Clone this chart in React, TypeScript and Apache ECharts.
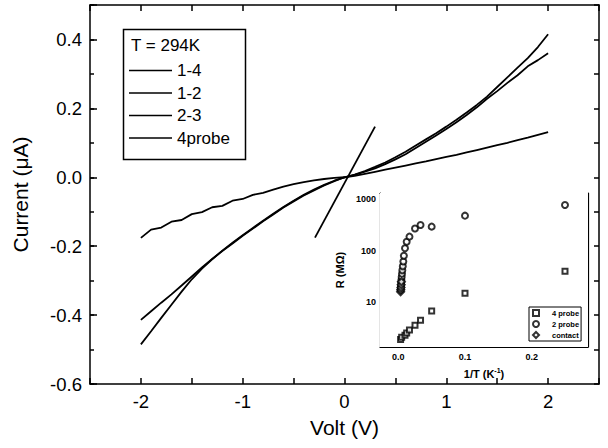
import React, { useEffect, useRef } from 'react';
import * as echarts from 'echarts';

// ---- main I-V data (V in volts, I in µA) ----
const voltage = [
  -2.0, -1.9, -1.8, -1.7, -1.6, -1.5, -1.4, -1.3, -1.2, -1.1, -1.0,
  -0.9, -0.8, -0.7, -0.6, -0.5, -0.4, -0.3, -0.2, -0.1, 0.0,
  0.1, 0.2, 0.3, 0.4, 0.5, 0.6, 0.7, 0.8, 0.9, 1.0,
  1.1, 1.2, 1.3, 1.4, 1.5, 1.6, 1.7, 1.8, 1.9, 2.0,
];
const current14 = [
  -0.485, -0.447, -0.408, -0.370, -0.332, -0.296, -0.265, -0.238, -0.213, -0.190, -0.168,
  -0.147, -0.126, -0.106, -0.086, -0.068, -0.051, -0.036, -0.022, -0.010, 0.0,
  0.008, 0.018, 0.030, 0.043, 0.058, 0.074, 0.092, 0.110, 0.128, 0.147,
  0.167, 0.188, 0.210, 0.234, 0.262, 0.290, 0.318, 0.346, 0.378, 0.415,
];
const current12 = [
  -0.414, -0.389, -0.364, -0.340, -0.314, -0.288, -0.262, -0.237, -0.214, -0.192, -0.170,
  -0.149, -0.128, -0.108, -0.088, -0.070, -0.053, -0.038, -0.024, -0.011, 0.0,
  0.007, 0.016, 0.026, 0.038, 0.052, 0.067, 0.085, 0.103, 0.121, 0.140,
  0.160, 0.181, 0.203, 0.228, 0.250, 0.274, 0.296, 0.322, 0.340, 0.360,
];
const current23 = [
  -0.176, -0.152, -0.146, -0.129, -0.124, -0.107, -0.101, -0.087, -0.083, -0.068, -0.063,
  -0.051, -0.045, -0.036, -0.027, -0.020, -0.014, -0.009, -0.005, -0.002, 0.0,
  0.004, 0.010, 0.016, 0.022, 0.028, 0.034, 0.040, 0.046, 0.053, 0.059,
  0.065, 0.072, 0.079, 0.086, 0.093, 0.100, 0.108, 0.115, 0.123, 0.131,
];
const volt4probe = [-0.29, 0.30];
const current4probe = [-0.175, 0.147];

// ---- inset data: R (MΩ) vs 1/T (1/K) ----
const invT4probe = [0.0034, 0.005, 0.01, 0.0125, 0.0167, 0.025, 0.0333, 0.05, 0.1, 0.25];
const r4probe = [1.9, 2.1, 2.3, 2.55, 2.9, 3.6, 4.5, 6.8, 15, 40];
const invT2probe = [
  0.0034, 0.0037, 0.004, 0.0043, 0.0046, 0.005, 0.0055, 0.006, 0.0067, 0.0075,
  0.0083, 0.01, 0.0125, 0.0167, 0.025, 0.0333, 0.05, 0.1, 0.25,
];
const r2probe = [17.5, 19, 21, 24, 27, 31, 36, 42, 50, 62, 80, 112, 150, 188, 270, 316, 294, 480, 770];
const invTContact = [0.0034, 0.0037, 0.004, 0.0043, 0.0046];
const rContact = [16, 17.5, 19.5, 22, 25];

const legendNames = ['1-4', '1-2', '2-3', '4probe'];
const insetLegendNames = ['4 probe', '2 probe', 'contact'];
const insetLegendIcons = ['emptyRect', 'emptyCircle', 'emptyDiamond'];
const yTickLabels = ['-0.6', '-0.4', '-0.2', '0.0', '0.2', '0.4'];
const xTickLabels = ['-2', '-1', '0', '1', '2'];

const FONT = "Arial, 'Liberation Sans', Helvetica, sans-serif";
const BLACK = '#000';

const pair = (xs: number[], ys: number[]) => xs.map((x, i) => [x, ys[i]]);

export default function App() {
  const ref = useRef<HTMLDivElement>(null);

  useEffect(() => {
    if (!ref.current) return;
    const chart = echarts.init(ref.current, null, { renderer: 'svg' });

    const mainLine = { show: true, onZero: false, lineStyle: { color: BLACK, width: 1.5 } };
    const insetLine = { show: true, onZero: false, lineStyle: { color: BLACK, width: 1.2 } };
    const mainTick = (len: number) => ({
      show: true, inside: true, length: len, lineStyle: { color: BLACK, width: 1.5 },
    });
    const insetTick = { show: true, inside: true, length: 4, lineStyle: { color: BLACK, width: 1 } };

    const lineSeries = (name: string, data: number[][]) => ({
      name,
      type: 'line',
      xAxisIndex: 0,
      yAxisIndex: 0,
      data,
      symbol: 'none',
      lineStyle: { color: BLACK, width: 1.8 },
      itemStyle: { color: BLACK },
      z: 3,
    });

    const option: any = {
      animation: false,
      backgroundColor: '#fff',
      textStyle: { fontFamily: FONT, color: BLACK },
      grid: [
        { left: 90, right: 9, top: 5, bottom: 64, outerBoundsMode: 'none' },
        {
          left: 380, top: 193, width: 208, height: 154,
          show: true, backgroundColor: '#fff', borderWidth: 0, z: 5,
          outerBoundsMode: 'none',
        },
      ],
      xAxis: [
        {
          gridIndex: 0, type: 'value', position: 'bottom', min: -2.5, max: 2.5, interval: 0.5,
          axisLine: mainLine, axisTick: mainTick(6),
          splitLine: { show: false },
          axisLabel: {
            color: BLACK, fontSize: 18.5, margin: 8, fontFamily: FONT,
            formatter: (v: number) => {
              const r = Math.round(v);
              return Math.abs(v - r) < 1e-6 && xTickLabels.includes(String(r)) ? String(r) : '';
            },
          },
          name: 'Volt (V)', nameLocation: 'middle', nameGap: 33,
          nameTextStyle: { fontSize: 21, color: BLACK, fontFamily: FONT },
        },
        {
          gridIndex: 0, type: 'value', position: 'top', min: -2.5, max: 2.5, interval: 0.5,
          axisLine: mainLine, axisTick: mainTick(6),
          splitLine: { show: false }, axisLabel: { show: false },
        },
        {
          gridIndex: 1, type: 'value', position: 'bottom', min: -0.0275, max: 0.2845,
          axisLine: insetLine, axisTick: insetTick,
          splitLine: { show: false },
          axisLabel: {
            color: BLACK, fontSize: 9, fontWeight: 'bold', margin: 5, fontFamily: FONT,
            formatter: (v: number) => {
              const r = Math.round(v * 10);
              return Math.abs(v * 10 - r) < 1e-6 ? (r / 10).toFixed(1) : '';
            },
          },
          name: '1/T (K{s|-1})', nameLocation: 'middle', nameGap: 20,
          nameTextStyle: {
            fontSize: 11, fontWeight: 'bold', color: BLACK, fontFamily: FONT,
            rich: { s: { fontSize: 7, fontWeight: 'bold', verticalAlign: 'top', padding: [0, 0, 6, 0] } },
          },
        },
        {
          gridIndex: 1, type: 'value', position: 'top', min: -0.0275, max: 0.2845,
          axisLine: insetLine, axisTick: insetTick,
          splitLine: { show: false }, axisLabel: { show: false },
        },
      ],
      yAxis: [
        {
          gridIndex: 0, type: 'value', position: 'left', min: -0.6, max: 0.5, interval: 0.2,
          axisLine: mainLine, axisTick: mainTick(7),
          splitLine: { show: false },
          axisLabel: {
            color: BLACK, fontSize: 18.5, margin: 8, fontFamily: FONT,
            formatter: (v: number) => {
              const r = Math.round(v * 10) / 10;
              const s = (Math.abs(r) < 1e-9 ? 0 : r).toFixed(1);
              return yTickLabels.includes(s) && Math.abs(v - r) < 1e-6 ? s : '';
            },
          },
          name: 'Current (μA)', nameLocation: 'middle', nameGap: 59,
          nameTextStyle: { fontSize: 21, color: BLACK, fontFamily: FONT },
        },
        {
          gridIndex: 0, type: 'value', position: 'left', min: -0.6, max: 0.5, interval: 0.1,
          axisLine: { show: false, onZero: false }, axisTick: mainTick(4),
          splitLine: { show: false }, axisLabel: { show: false },
        },
        {
          gridIndex: 0, type: 'value', position: 'right', min: -0.6, max: 0.5, interval: 0.1,
          axisLine: mainLine, axisTick: mainTick(5),
          splitLine: { show: false }, axisLabel: { show: false },
        },
        {
          gridIndex: 1, type: 'log', logBase: 10, position: 'left', min: 1.36, max: 1320,
          axisLine: insetLine, axisTick: insetTick,
          minorTick: { show: true, splitNumber: 5, length: 2, lineStyle: { color: BLACK, width: 0.8 } },
          splitLine: { show: false }, minorSplitLine: { show: false },
          axisLabel: {
            color: BLACK, fontSize: 9, fontWeight: 'bold', margin: 4, fontFamily: FONT,
            formatter: (v: number) => {
              const e = Math.log10(v);
              return Math.abs(e - Math.round(e)) < 1e-6 && v >= 10 ? String(Math.round(v)) : '';
            },
          },
          name: 'R (MΩ)', nameLocation: 'middle', nameGap: 35,
          nameTextStyle: { fontSize: 11, fontWeight: 'bold', color: BLACK, fontFamily: FONT },
        },
        {
          gridIndex: 1, type: 'log', logBase: 10, position: 'right', min: 1.36, max: 1320,
          axisLine: insetLine, axisTick: insetTick,
          splitLine: { show: false }, axisLabel: { show: false },
        },
      ],
      legend: [
        {
          data: legendNames.map((n) => ({ name: n, icon: 'rect' })),
          left: 129, top: 62, orient: 'vertical', padding: 0,
          itemWidth: 43, itemHeight: 1.6, itemGap: 5.5, selectedMode: false,
          textStyle: { fontSize: 17, color: BLACK, fontFamily: FONT, lineHeight: 17 },
        },
        {
          data: insetLegendNames.map((n, i) => ({ name: n, icon: insetLegendIcons[i] })),
          left: 529, top: 307, orient: 'vertical',
          padding: [2, 2, 2, 3], borderColor: BLACK, borderWidth: 1,
          itemWidth: 6, itemHeight: 6, itemGap: 3, selectedMode: false, z: 10,
          backgroundColor: '#fff',
          textStyle: {
            fontSize: 7.5, fontWeight: 'bold', color: BLACK, fontFamily: FONT, lineHeight: 8,
            padding: [0, 0, 0, 8],
          },
        },
      ],
      graphic: [
        {
          type: 'rect', left: 121, top: 27, z: 2,
          shape: { width: 122, height: 130 },
          style: { fill: 'none', stroke: BLACK, lineWidth: 1.5 },
        },
        {
          type: 'text', left: 131, top: 37, z: 2,
          style: { text: 'T = 294K', fontSize: 17, fontFamily: FONT, fill: BLACK },
        },
      ],
      series: [
        lineSeries('1-4', pair(voltage, current14)),
        lineSeries('1-2', pair(voltage, current12)),
        lineSeries('2-3', pair(voltage, current23)),
        lineSeries('4probe', pair(volt4probe, current4probe)),
        {
          name: '4 probe', type: 'scatter', xAxisIndex: 2, yAxisIndex: 3,
          data: pair(invT4probe, r4probe), symbol: 'emptyRect', symbolSize: 5,
          itemStyle: { color: BLACK, borderWidth: 1 }, z: 6,
        },
        {
          name: '2 probe', type: 'scatter', xAxisIndex: 2, yAxisIndex: 3,
          data: pair(invT2probe, r2probe), symbol: 'emptyCircle', symbolSize: 6,
          itemStyle: { color: BLACK, borderWidth: 1 }, z: 6,
        },
        {
          name: 'contact', type: 'scatter', xAxisIndex: 2, yAxisIndex: 3,
          data: pair(invTContact, rContact), symbol: 'emptyDiamond', symbolSize: 7,
          itemStyle: { color: BLACK, borderWidth: 1 }, z: 6,
        },
      ],
    };

    chart.setOption(option);
    return () => chart.dispose();
  }, []);

  return (
    <div
      ref={ref}
      style={{ position: 'fixed', left: 0, top: 0, width: 608, height: 448, background: '#fff' }}
    />
  );
}
